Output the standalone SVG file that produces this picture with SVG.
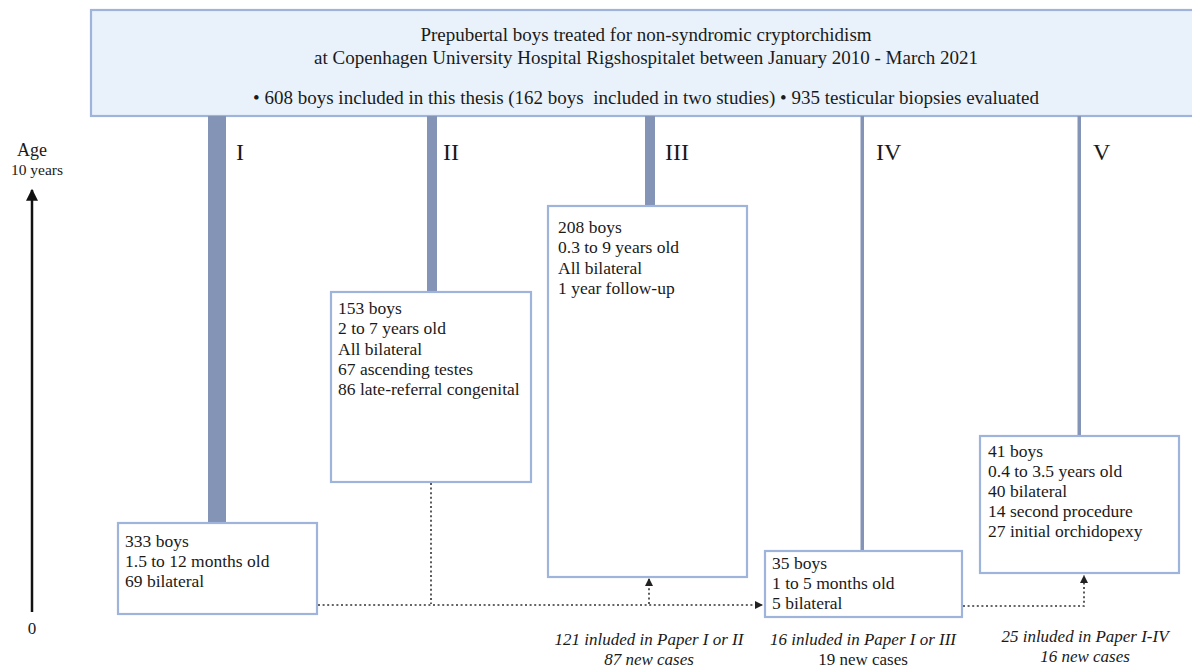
<svg xmlns="http://www.w3.org/2000/svg" width="1192" height="669" viewBox="0 0 1192 669">
<defs>
<style>
text{font-family:"Liberation Serif","Times New Roman",serif;fill:#1a1a1a}
.hdr{font-size:19px;text-anchor:middle}
.box{fill:#ffffff;stroke:#9fb4da;stroke-width:2.2}
.t{font-size:17.5px}
.lab{font-size:24px}
.pil{fill:#8394b7}
.dot{fill:none;stroke:#333;stroke-width:1.6;stroke-dasharray:2 2.6}
.note{font-size:17px;text-anchor:middle}
.it{font-style:italic}
</style>
<marker id="ah" viewBox="0 0 10 10" refX="10" refY="5" markerWidth="8" markerHeight="8" markerUnits="userSpaceOnUse" orient="auto">
<path d="M0,0 L10,5 L0,10 z" fill="#222"/>
</marker>
<marker id="axh" viewBox="0 0 10 10" refX="9" refY="5" markerWidth="14" markerHeight="12" markerUnits="userSpaceOnUse" orient="auto">
<path d="M0,0 L10,5 L0,10 z" fill="#111"/>
</marker>
</defs>
<rect width="1192" height="669" fill="#ffffff"/>

<g id="header">
<rect x="91" y="10" width="1112" height="106" fill="#e9f2fb" stroke="#9fb4da" stroke-width="2.2"/>
<text class="hdr" x="646" y="41">Prepubertal boys treated for non-syndromic cryptorchidism</text>
<text class="hdr" x="646" y="64">at Copenhagen University Hospital Rigshospitalet between January 2010 - March 2021</text>
<text class="hdr" x="646" y="104" xml:space="preserve">• 608 boys included in this thesis (162 boys  included in two studies) • 935 testicular biopsies evaluated</text>
</g>

<g id="axis">
<line x1="32" y1="612" x2="32" y2="190" stroke="#111" stroke-width="2.5" marker-end="url(#axh)"/>
<text x="32" y="156" font-size="18" text-anchor="middle">Age</text>
<text x="37" y="175" font-size="15.5" text-anchor="middle">10 years</text>
<text x="32" y="634" font-size="17" text-anchor="middle">0</text>
</g>

<g id="study-I">
<rect class="pil" x="208" y="116" width="18" height="408"/>
<text class="lab" x="236" y="160">I</text>
<rect class="box" x="118" y="523" width="199" height="91"/>
<text class="t" x="125" y="547">333 boys</text>
<text class="t" x="125" y="567">1.5 to 12 months old</text>
<text class="t" x="125" y="587">69 bilateral</text>
</g>

<g id="study-II">
<rect class="pil" x="427" y="116" width="10" height="177"/>
<text class="lab" x="443" y="160">II</text>
<rect class="box" x="331" y="292" width="200" height="190"/>
<text class="t" x="338" y="314">153 boys</text>
<text class="t" x="338" y="334">2 to 7 years old</text>
<text class="t" x="338" y="355">All bilateral</text>
<text class="t" x="338" y="375">67 ascending testes</text>
<text class="t" x="338" y="395">86 late-referral congenital</text>
</g>

<g id="study-III">
<rect class="pil" x="645" y="116" width="10" height="91"/>
<text class="lab" x="665" y="160">III</text>
<rect class="box" x="548" y="206" width="199" height="371"/>
<text class="t" x="558" y="233">208 boys</text>
<text class="t" x="558" y="253">0.3 to 9 years old</text>
<text class="t" x="558" y="274">All bilateral</text>
<text class="t" x="558" y="294">1 year follow-up</text>
</g>

<g id="study-IV">
<rect class="pil" x="860.5" y="116" width="3.5" height="437"/>
<text class="lab" x="876" y="160">IV</text>
<rect class="box" x="765" y="551" width="197" height="66"/>
<text class="t" x="772" y="569">35 boys</text>
<text class="t" x="772" y="589">1 to 5 months old</text>
<text class="t" x="772" y="609">5 bilateral</text>
</g>

<g id="study-V">
<rect class="pil" x="1077.5" y="116" width="3.5" height="321"/>
<text class="lab" x="1093" y="160">V</text>
<rect class="box" x="980" y="436" width="199" height="137"/>
<text class="t" x="988" y="457">41 boys</text>
<text class="t" x="988" y="477">0.4 to 3.5 years old</text>
<text class="t" x="988" y="497">40 bilateral</text>
<text class="t" x="988" y="517">14 second procedure</text>
<text class="t" x="988" y="537">27 initial orchidopexy</text>
</g>

<g id="connectors">
<line class="dot" x1="318" y1="605" x2="763" y2="605" marker-end="url(#ah)"/>
<line class="dot" x1="431" y1="483" x2="431" y2="604"/>
<line class="dot" x1="649" y1="604" x2="649" y2="578" marker-end="url(#ah)"/>
<polyline class="dot" points="963,606 1084,606 1084,575" marker-end="url(#ah)"/>
</g>

<g id="notes">
<text class="note it" x="649" y="645">121 inluded in Paper I or II</text>
<text class="note it" x="649" y="665">87 new cases</text>
<text class="note it" x="863" y="645">16 inluded in Paper I or III</text>
<text class="note" x="863" y="665">19 new cases</text>
<text class="note it" x="1085" y="642">25 inluded in Paper I-IV</text>
<text class="note it" x="1085" y="662">16 new cases</text>
</g>
</svg>
